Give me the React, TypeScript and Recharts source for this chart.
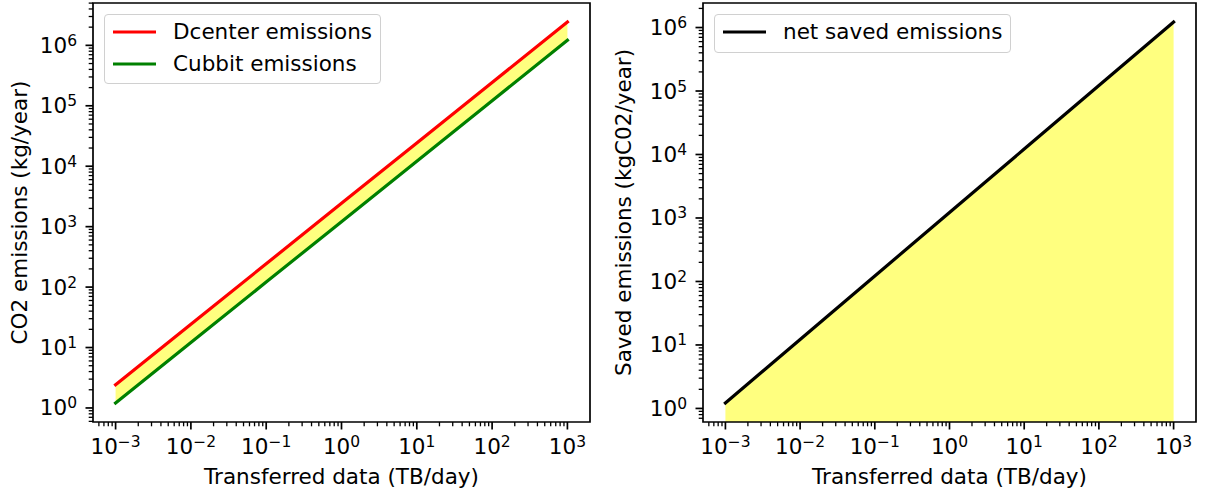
import { ComposedChart, Line, Area, XAxis, YAxis, Legend, ReferenceArea } from "recharts";

// values (log-log, one point per decade)
const transferred = [0.001, 0.01, 0.1, 1, 10, 100, 1000];
const dcenterEmissions = [2.43, 24.3, 243, 2430, 24300, 243000, 2430000];
const cubbitEmissions = [1.21, 12.1, 121, 1210, 12100, 121000, 1210000];
const netSaved = [1.22, 12.2, 122, 1220, 12200, 122000, 1220000];
const leftLegendOrder = ["Dcenter emissions", "Cubbit emissions"];
const rightLegendOrder = ["net saved emissions"];

const FONT = "'DejaVu Sans', sans-serif";
const FS = 21.5;
const SUP = 15.5;

const leftRows = transferred.map((x, i) => ({ x, dcenter: dcenterEmissions[i], cubbit: cubbitEmissions[i] }));
const rightRows = transferred.map((x, i) => ({ x, net: netSaved[i] }));

// matplotlib-like autoscale: 5% margin measured in decades
function logDomain(values: number[]): [number, number] {
  const lo = Math.log10(Math.min(...values));
  const hi = Math.log10(Math.max(...values));
  const pad = (hi - lo) * 0.05;
  return [10 ** (lo - pad), 10 ** (hi + pad)];
}

// major + minor tick values (1..9 x 10^k) inside the domain
function logTicks(domain: [number, number]) {
  const out: number[] = [];
  const e0 = Math.floor(Math.log10(domain[0]));
  const e1 = Math.ceil(Math.log10(domain[1]));
  for (let e = e0; e <= e1; e++) {
    for (let m = 1; m < 10; m++) {
      const v = m * 10 ** e;
      if (v >= domain[0] && v <= domain[1]) out.push(v);
    }
  }
  return out;
}

const xDomain = logDomain(transferred);
const leftYDomain = logDomain([...cubbitEmissions, ...dcenterEmissions]);
const rightYDomain = logDomain(netSaved);

function expOf(v: number) {
  const l = Math.log10(v);
  const e = Math.round(l);
  return { e, major: Math.abs(l - e) < 1e-6 };
}

function supText(e: number) {
  return e < 0 ? `\u2212${-e}` : `${e}`;
}

function XTick(props: any) {
  const { x, y, payload } = props;
  const { e, major } = expOf(payload.value);
  return (
    <g>
      <line x1={x} x2={x} y1={y} y2={y + (major ? 7.5 : 4.3)} stroke="#000" strokeWidth={major ? 1.7 : 1.3} />
      {major && (
        <text x={x} y={y + 32} textAnchor="middle" fontFamily={FONT} fontSize={FS} fill="#000">
          10<tspan dy={-7} fontSize={SUP}>{supText(e)}</tspan>
        </text>
      )}
    </g>
  );
}

function YTick(props: any) {
  const { x, y, payload } = props;
  const { e, major } = expOf(payload.value);
  return (
    <g>
      <line x1={x} x2={x - (major ? 7.5 : 4.3)} y1={y} y2={y} stroke="#000" strokeWidth={major ? 1.7 : 1.3} />
      {major && (
        <text x={x - 16} y={y + 7.5} textAnchor="end" fontFamily={FONT} fontSize={FS} fill="#000">
          10<tspan dy={-7} fontSize={SUP}>{supText(e)}</tspan>
        </text>
      )}
    </g>
  );
}

function LegendBox({ payload, order }: any) {
  const items = (payload || [])
    .filter((p: any) => p.type !== "none")
    .sort((a: any, b: any) => order.indexOf(a.value) - order.indexOf(b.value));
  return (
    <div
      style={{
        border: "1px solid #d0d0d0",
        borderRadius: 4,
        background: "rgba(255,255,255,0.8)",
        padding: "1px 8px 4px 8px",
        fontFamily: FONT,
        fontSize: FS,
        color: "#000",
        whiteSpace: "nowrap",
      }}
    >
      {items.map((p: any) => (
        <div key={p.value} style={{ display: "flex", alignItems: "center", height: 31.7, lineHeight: "31.7px" }}>
          <svg width={43} height={6} style={{ marginRight: 17 }}>
            <line x1={0} x2={43} y1={3} y2={3} stroke={p.color} strokeWidth={3.2} />
          </svg>
          <span>{p.value}</span>
        </div>
      ))}
    </div>
  );
}

function yTitle(text: string, offset: number) {
  return (props: any) => {
    const vb = props.viewBox;
    const cx = vb.x + offset;
    const cy = vb.y + vb.height / 2;
    return (
      <text x={cx} y={cy} transform={`rotate(-90 ${cx} ${cy})`} textAnchor="middle" fontFamily={FONT} fontSize={FS} fill="#000">
        {text}
      </text>
    );
  };
}

function xTitle(text: string) {
  return (props: any) => {
    const vb = props.viewBox;
    return (
      <text x={vb.x + vb.width / 2} y={vb.y + 61.5} textAnchor="middle" fontFamily={FONT} fontSize={FS} fill="#000">
        {text}
      </text>
    );
  };
}

function Frame({ yDomain }: { yDomain: [number, number] }) {
  return (
    <ReferenceArea
      x1={xDomain[0]}
      x2={xDomain[1]}
      y1={yDomain[0]}
      y2={yDomain[1]}
      fill="none"
      stroke="#000"
      strokeWidth={1.7}
      ifOverflow="visible"
    />
  );
}

function LeftPanel() {
  return (
    <ComposedChart width={604} height={496} data={leftRows} margin={{ top: 3, right: 14, bottom: 0, left: 0 }}>
      <XAxis
        dataKey="x"
        type="number"
        scale="log"
        domain={xDomain}
        allowDataOverflow
        ticks={logTicks(xDomain)}
        interval={0}
        tickSize={0}
        tickMargin={0}
        tickLine={false}
        axisLine={false}
        height={74}
        tick={XTick}
        label={xTitle("Transferred data (TB/day)")}
      />
      <YAxis
        type="number"
        scale="log"
        domain={leftYDomain}
        allowDataOverflow
        ticks={logTicks(leftYDomain)}
        interval={0}
        tickSize={0}
        tickMargin={0}
        tickLine={false}
        axisLine={false}
        width={93}
        tick={YTick}
        label={yTitle("CO2 emissions (kg/year)", 27)}
      />
      <Area
        dataKey={(d: any) => [d.cubbit, d.dcenter]}
        fill="#ffff00"
        fillOpacity={0.5}
        stroke="none"
        legendType="none"
        isAnimationActive={false}
      />
      <Line dataKey="dcenter" name="Dcenter emissions" stroke="#ff0000" strokeWidth={3.2} strokeLinecap="square" dot={false} isAnimationActive={false} />
      <Line dataKey="cubbit" name="Cubbit emissions" stroke="#008000" strokeWidth={3.2} strokeLinecap="square" dot={false} isAnimationActive={false} />
      <Frame yDomain={leftYDomain} />
      <Legend
        layout="vertical"
        align="center"
        verticalAlign="middle"
        wrapperStyle={{ left: 104, top: 14, width: "auto", height: "auto" }}
        content={<LegendBox order={leftLegendOrder} />}
      />
    </ComposedChart>
  );
}

function RightPanel() {
  return (
    <ComposedChart width={604} height={496} data={rightRows} margin={{ top: 3, right: 12, bottom: 0, left: 0 }}>
      <XAxis
        dataKey="x"
        type="number"
        scale="log"
        domain={xDomain}
        allowDataOverflow
        ticks={logTicks(xDomain)}
        interval={0}
        tickSize={0}
        tickMargin={0}
        tickLine={false}
        axisLine={false}
        height={74}
        tick={XTick}
        label={xTitle("Transferred data (TB/day)")}
      />
      <YAxis
        type="number"
        scale="log"
        domain={rightYDomain}
        allowDataOverflow
        ticks={logTicks(rightYDomain)}
        interval={0}
        tickSize={0}
        tickMargin={0}
        tickLine={false}
        axisLine={false}
        width={99}
        tick={YTick}
        label={yTitle("Saved emissions (kgC02/year)", 27)}
      />
      <Area
        dataKey="net"
        baseValue="dataMin"
        fill="#ffff00"
        fillOpacity={0.5}
        stroke="none"
        legendType="none"
        isAnimationActive={false}
      />
      <Line dataKey="net" name="net saved emissions" stroke="#000000" strokeWidth={3.2} strokeLinecap="square" dot={false} isAnimationActive={false} />
      <Frame yDomain={rightYDomain} />
      <Legend
        layout="vertical"
        align="center"
        verticalAlign="middle"
        wrapperStyle={{ left: 110, top: 14, width: "auto", height: "auto" }}
        content={<LegendBox order={rightLegendOrder} />}
      />
    </ComposedChart>
  );
}

export default function App() {
  return (
    <div style={{ position: "absolute", left: 0, top: 0, width: 1208, height: 496, background: "#fff" }}>
      <div style={{ position: "absolute", left: 0, top: 0 }}>
        <LeftPanel />
      </div>
      <div style={{ position: "absolute", left: 604, top: 0 }}>
        <RightPanel />
      </div>
    </div>
  );
}
